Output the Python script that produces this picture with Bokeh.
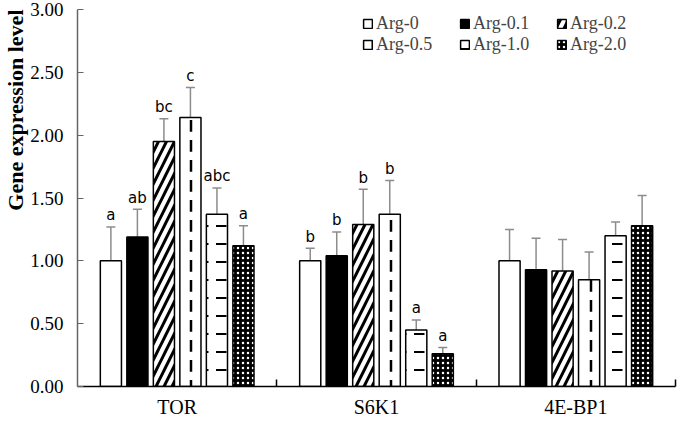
from bokeh.plotting import figure
from bokeh.models import Range1d, FixedTicker, Whisker, TeeHead, ColumnDataSource, Legend, LegendItem, LinearAxis, Title
from bokeh.core.properties import value
from bokeh.embed import file_html
from bokeh.resources import INLINE

genes = ["TOR", "S6K1", "4E-BP1"]
groups = ["Arg-0", "Arg-0.1", "Arg-0.2", "Arg-0.5", "Arg-1.0", "Arg-2.0"]
means = {
    "Arg-0":   [1.00, 1.00, 1.00],
    "Arg-0.1": [1.19, 1.04, 0.93],
    "Arg-0.2": [1.95, 1.29, 0.92],
    "Arg-0.5": [2.14, 1.37, 0.85],
    "Arg-1.0": [1.37, 0.45, 1.20],
    "Arg-2.0": [1.12, 0.26, 1.28],
}
errors = {
    "Arg-0":   [0.27, 0.10, 0.25],
    "Arg-0.1": [0.22, 0.19, 0.25],
    "Arg-0.2": [0.18, 0.28, 0.25],
    "Arg-0.5": [0.24, 0.27, 0.22],
    "Arg-1.0": [0.21, 0.08, 0.11],
    "Arg-2.0": [0.16, 0.05, 0.24],
}
letters = {
    "Arg-0":   ["a", "b", ""],
    "Arg-0.1": ["ab", "b", ""],
    "Arg-0.2": ["bc", "b", ""],
    "Arg-0.5": ["c", "b", ""],
    "Arg-1.0": ["abc", "a", ""],
    "Arg-2.0": ["a", "a", ""],
}
y_ticks = [0.0, 0.5, 1.0, 1.5, 2.0, 2.5, 3.0]
y_title = "Gene expression level"

styles = {
    "Arg-0":   dict(fill_color="white", hatch_pattern=None),
    "Arg-0.1": dict(fill_color="black", hatch_pattern=None),
    "Arg-0.2": dict(fill_color="white", hatch_pattern="/", hatch_color="black", hatch_weight=3, hatch_scale=16),
    "Arg-0.5": dict(fill_color="white", hatch_pattern=":", hatch_color="black", hatch_weight=2.5, hatch_scale=20),
    "Arg-1.0": dict(fill_color="white", hatch_pattern='"', hatch_color="black", hatch_weight=2, hatch_scale=18),
    "Arg-2.0": dict(fill_color="black", hatch_pattern=".", hatch_color="white", hatch_weight=1.2, hatch_scale=5),
}

SERIF = "Liberation Serif"

p = figure(width=677, height=420, output_backend="svg", toolbar_location=None,
           x_range=Range1d(0, 3), y_range=Range1d(0, 3),
           min_border_left=71, min_border_right=2, min_border_top=9, min_border_bottom=30,
           x_axis_location=None, y_axis_location=None)
p.outline_line_color = None
p.grid.visible = False
p.background_fill_color = "white"

pitch = 0.133
bw = 0.106
items = []
for j, g in enumerate(groups):
    xs = [i + 0.5 + (j - 2.5) * pitch for i in range(3)]
    up = [m + e for m, e in zip(means[g], errors[g])]
    src = ColumnDataSource(dict(x=xs, top=means[g], upper=up, lab=letters[g],
                                ly=[u + 0.02 for u in up]))
    st = dict(styles[g])
    hp = st.pop("hatch_pattern")
    kw = dict(line_color="black", line_width=1.5)
    kw.update(st)
    if hp is not None:
        kw["hatch_pattern"] = hp
    r = p.vbar(x="x", top="top", width=bw, bottom=0, source=src, **kw)
    items.append(LegendItem(label=g, renderers=[r]))
    w = Whisker(source=src, base="x", upper="upper", lower="top", dimension="height",
                line_color="#8c8c8c", line_width=1.5,
                upper_head=TeeHead(size=9, line_color="#8c8c8c", line_width=1.5),
                lower_head=None)
    p.add_layout(w)
    p.text(x="x", y="ly", text="lab", source=src, text_align="center", text_baseline="bottom",
           text_font_size="15px", text_font=value("DejaVu Sans"), text_color="black")

yax = LinearAxis(ticker=FixedTicker(ticks=y_ticks))
yax.major_label_overrides = {t: f"{t:.2f}" for t in y_ticks}
yax.major_label_text_font = SERIF
yax.major_label_text_font_size = "19px"
yax.major_label_text_color = "black"
yax.major_label_standoff = 14
yax.major_tick_in = 6
yax.major_tick_out = 0
yax.minor_tick_line_color = None
yax.axis_line_color = "#666666"
yax.major_tick_line_color = "#666666"
yax.axis_line_width = 1.5
p.add_layout(yax, "left")

ttl = Title(text=y_title, align="right", text_font=SERIF, text_font_style="bold",
            text_font_size="22px", text_color="black", standoff=0, offset=0)
p.add_layout(ttl, "left")

xax = LinearAxis(ticker=FixedTicker(ticks=[0.5, 1.5, 2.5], minor_ticks=[1, 2, 3]))
xax.major_label_overrides = {0.5: genes[0], 1.5: genes[1], 2.5: genes[2]}
xax.major_label_text_font = SERIF
xax.major_label_text_font_size = "20px"
xax.major_label_text_color = "black"
xax.major_label_standoff = 3
xax.major_tick_line_color = None
xax.minor_tick_in = 7
xax.minor_tick_out = 0
xax.minor_tick_line_color = "black"
xax.minor_tick_line_width = 1.5
xax.axis_line_color = "black"
xax.axis_line_width = 1.5
p.add_layout(xax, "below")

order = [0, 3, 1, 4, 2, 5]
legend = Legend(items=[items[k] for k in order], ncols=3, location=(285, 331))
legend.label_text_font = SERIF
legend.label_text_font_size = "18px"
legend.glyph_width = 11
legend.glyph_height = 11
legend.label_standoff = 3
legend.spacing = 0
legend.label_width = 83
legend.label_height = 17
legend.padding = 4
legend.margin = 0
legend.border_line_color = None
legend.background_fill_alpha = 0
p.add_layout(legend)

open("out.html", "w").write(file_html(p, INLINE))
